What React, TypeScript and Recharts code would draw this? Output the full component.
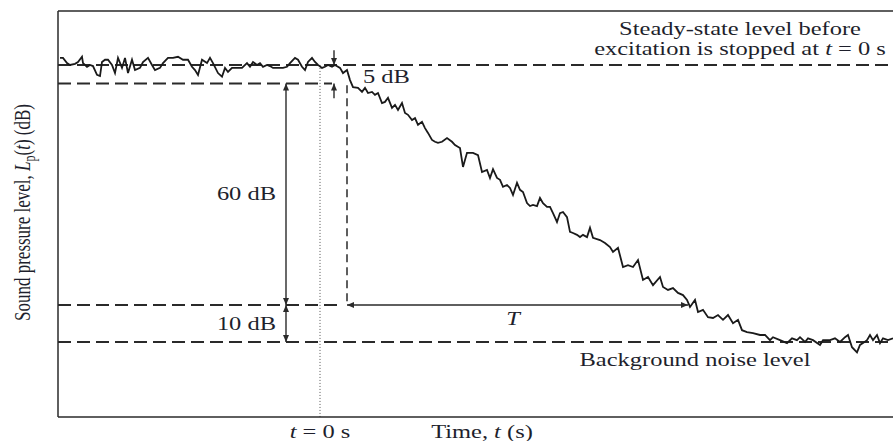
import { LineChart, Line, XAxis, YAxis, ReferenceLine, ReferenceDot } from "recharts"

// time relative to the moment excitation stops (t = 0)
const time = [
  -260, -257, -253, -250, -245, -242, -238, -237, -233, -230, -227, -223, -220, -218, -215, -212,
  -208, -205, -202, -198, -195, -192, -188, -185, -180, -177, -172, -168, -165, -160, -157, -152,
  -147, -142, -137, -132, -128, -125, -122, -118, -113, -110, -107, -102, -98, -95, -92, -88,
  -83, -78, -73, -70, -67, -63, -60, -57, -53, -50, -47, -42, -37, -33, -30, -25,
  -22, -18, -15, -12, -8, -5, -2, 2, 5, 8, 12, 15, 20, 23, 27, 30,
  33, 38, 42, 45, 48, 52, 55, 58, 62, 65, 68, 72, 75, 78, 82, 85,
  88, 92, 95, 98, 102, 105, 108, 112, 115, 118, 122, 127, 132, 135, 140, 143,
  147, 153, 158, 162, 167, 170, 173, 177, 180, 183, 187, 190, 193, 197, 200, 203,
  207, 210, 213, 217, 220, 223, 227, 230, 233, 237, 240, 243, 247, 250, 253, 257,
  260, 263, 267, 270, 273, 280, 285, 290, 293, 298, 303, 308, 313, 318, 323, 328,
  333, 340, 343, 348, 353, 358, 363, 367, 370, 375, 378, 383, 388, 393, 398, 403,
  408, 413, 418, 422, 427, 433, 440, 445, 450, 453, 460, 467, 472, 477, 480, 485,
  488, 493, 500, 503, 510, 515, 520, 525, 528, 532, 537, 540, 543, 547, 550, 553,
  557, 560, 563, 568, 573,
]

// sound pressure level, dB
const level = [
  96.9, 96.9, 95.5, 95.0, 95.3, 95.8, 97.2, 95.5, 94.5, 95.0, 94.7, 92.3, 92.0, 95.8, 96.4, 96.4,
  95.0, 92.8, 96.9, 94.2, 96.9, 92.8, 96.4, 93.6, 94.2, 95.8, 96.9, 95.0, 93.6, 94.2, 95.5, 96.9,
  96.9, 97.2, 96.4, 96.4, 94.5, 93.6, 92.3, 96.4, 95.5, 96.9, 95.5, 92.8, 91.8, 94.2, 93.1, 94.2,
  94.2, 94.2, 95.5, 94.5, 95.8, 95.0, 95.5, 94.5, 95.0, 94.7, 94.2, 94.2, 94.2, 94.5, 95.5, 96.9,
  96.4, 94.5, 93.6, 95.8, 96.9, 95.8, 95.0, 94.2, 94.5, 95.0, 94.5, 95.0, 94.2, 92.8, 93.6, 90.9,
  89.0, 88.8, 87.7, 88.8, 87.4, 87.7, 86.9, 87.4, 84.7, 85.0, 86.1, 83.4, 84.2, 82.8, 84.7, 82.0,
  81.5, 80.1, 80.6, 78.8, 79.6, 77.9, 76.6, 74.7, 74.2, 73.9, 74.2, 75.2, 74.2, 73.3, 72.5, 67.4,
  71.2, 71.2, 70.6, 66.0, 66.6, 64.4, 66.8, 64.4, 63.9, 62.0, 62.5, 61.7, 59.8, 63.1, 61.2, 60.6,
  57.6, 56.8, 57.1, 56.8, 59.0, 57.6, 56.6, 56.6, 54.9, 52.5, 54.9, 55.2, 53.8, 49.8, 49.5, 49.0,
  48.4, 49.0, 48.4, 50.9, 48.2, 47.6, 46.8, 45.7, 44.4, 45.5, 40.3, 40.8, 40.3, 42.2, 36.8, 37.6,
  35.4, 37.6, 34.9, 34.1, 34.6, 33.3, 32.7, 31.4, 29.5, 31.4, 28.1, 28.7, 26.7, 26.5, 27.3, 26.0,
  27.3, 25.1, 26.0, 23.2, 22.7, 22.4, 21.9, 21.9, 20.5, 21.3, 20.5, 19.7, 21.0, 20.5, 21.3, 20.0,
  21.0, 20.5, 19.2, 20.5, 20.5, 21.0, 20.0, 21.3, 21.9, 18.6, 17.2, 19.2, 19.7, 20.5, 21.9, 20.5,
  21.9, 19.7, 21.0, 20.5, 21.0,
]

const steadyLevel = 95
const decayStart = 90 // 5 dB below steady state
const decayEnd = 30 // 60 dB below decayStart
const noiseLevel = 20 // background, 10 dB lower

const timeTicks = [0, 162]
const timeTickLabels = ["t = 0 s", "Time, t (s)"]

const X_DOMAIN = [-262, 573]
const Y_DOMAIN = [-0.3, 109.6]

const SERIF = "'Liberation Serif', 'Times New Roman', serif"
const INK = "#1e1f2c"
const FRAME = "#2a2a2a"
const SX = 1.36 // the figure is stretched sideways

// italicise the lone variable letters (t, T)
function rich(s: string) {
  return s.split(/(\b[tT]\b)/).map((part, i) =>
    /^[tT]$/.test(part) ? (
      <tspan key={i} fontStyle="italic">
        {part}
      </tspan>
    ) : (
      part
    )
  )
}

function StretchText({ x, y, anchor, lines, size = 18, gap = 20 }: any) {
  const arr: string[] = Array.isArray(lines) ? lines : [lines]
  return (
    <text
      transform={`translate(${x},${y}) scale(${SX},1)`}
      textAnchor={anchor}
      fontFamily={SERIF}
      fontSize={size}
      fill={INK}
    >
      {arr.map((s, i) => (
        <tspan key={i} x={0} dy={i === 0 ? 0 : gap}>
          {rich(s)}
        </tspan>
      ))}
    </text>
  )
}

const note = (lines: string | string[], anchor: "start" | "middle" | "end") => (p: any) =>
  <StretchText x={p.viewBox.x} y={p.viewBox.y} anchor={anchor} lines={lines} />

function arrow(both: boolean) {
  return (p: any) => {
    const { x1, y1, x2, y2 } = p
    const a = Math.atan2(y2 - y1, x2 - x1)
    const head = (x: number, y: number, ang: number) => {
      const len = 7
      const w = 3
      const bx = x - len * Math.cos(ang)
      const by = y - len * Math.sin(ang)
      const px = -Math.sin(ang) * w
      const py = Math.cos(ang) * w
      return <polygon points={`${x},${y} ${bx + px},${by + py} ${bx - px},${by - py}`} fill={FRAME} />
    }
    return (
      <g>
        <line x1={x1} y1={y1} x2={x2} y2={y2} stroke={FRAME} strokeWidth={1.4} />
        {both && head(x1, y1, a + Math.PI)}
        {head(x2, y2, a)}
      </g>
    )
  }
}

function TimeTick({ x, y, payload }: any) {
  const label = timeTickLabels[timeTicks.indexOf(payload.value)]
  return <StretchText x={x} y={y + 21} anchor="middle" lines={label} />
}

function YLabel({ viewBox }: any) {
  const cx = viewBox.x + 30
  const cy = viewBox.y + viewBox.height / 2 - 1.5
  return (
    <text
      transform={`translate(${cx},${cy}) scale(${SX},1) rotate(-90)`}
      textAnchor="middle"
      fontFamily={SERIF}
      fontSize={17}
      fill={INK}
    >
      Sound pressure level, <tspan fontStyle="italic">L</tspan>
      <tspan fontSize={12} dy={4}>
        p
      </tspan>
      <tspan dy={-4}>(</tspan>
      <tspan fontStyle="italic">t</tspan>) (dB)
    </text>
  )
}

const dashed = { stroke: FRAME, strokeWidth: 2, strokeDasharray: "13 6" }

export default function App() {
  const data = time.map((t, i) => ({ t, L: level[i] }))
  const [xMin, xMax] = X_DOMAIN
  const [yMin, yMax] = Y_DOMAIN

  return (
    <div style={{ position: "absolute", left: 0, top: 0, width: 893, height: 441, background: "#fff" }}>
      <LineChart width={893} height={441} data={data} margin={{ top: 11, right: 0, bottom: 0, left: 0 }}>
        <XAxis
          dataKey="t"
          type="number"
          domain={X_DOMAIN}
          allowDataOverflow
          ticks={timeTicks}
          interval={0}
          tickSize={0}
          tickMargin={0}
          tickLine={false}
          axisLine={{ stroke: FRAME, strokeWidth: 1.5 }}
          height={24}
          tick={(p: any) => <TimeTick {...p} />}
        />
        <YAxis
          type="number"
          domain={Y_DOMAIN}
          allowDataOverflow
          width={58}
          tick={false}
          tickLine={false}
          axisLine={{ stroke: FRAME, strokeWidth: 1.5 }}
          label={{ content: (p: any) => <YLabel {...p} /> }}
        />

        {/* top frame edge */}
        <ReferenceLine y={yMax} stroke={FRAME} strokeWidth={1.5} />

        <ReferenceLine y={steadyLevel} {...dashed} />
        <ReferenceLine y={noiseLevel} {...dashed} />
        <ReferenceLine segment={[{ x: xMin, y: decayStart }, { x: 12, y: decayStart }]} {...dashed} />
        <ReferenceLine segment={[{ x: xMin, y: decayEnd }, { x: 18, y: decayEnd }]} {...dashed} />

        <ReferenceLine
          segment={[{ x: 0, y: steadyLevel }, { x: 0, y: yMin }]}
          stroke="#555"
          strokeWidth={1}
          strokeDasharray="1 2"
        />
        <ReferenceLine
          segment={[{ x: 27, y: decayStart - 0.5 }, { x: 27, y: decayEnd }]}
          stroke={FRAME}
          strokeWidth={1.5}
          strokeDasharray="8 5"
        />

        <ReferenceLine segment={[{ x: -34, y: decayStart }, { x: -34, y: decayEnd }]} shape={arrow(true)} />
        <ReferenceLine segment={[{ x: -34, y: decayEnd }, { x: -34, y: noiseLevel }]} shape={arrow(true)} />
        <ReferenceLine segment={[{ x: 27, y: decayEnd }, { x: 368, y: decayEnd }]} shape={arrow(true)} />
        <ReferenceLine segment={[{ x: 14, y: steadyLevel + 4 }, { x: 14, y: steadyLevel }]} shape={arrow(false)} />
        <ReferenceLine segment={[{ x: 14, y: decayStart - 4 }, { x: 14, y: decayStart }]} shape={arrow(false)} />

        <Line
          dataKey="L"
          type="linear"
          dot={false}
          stroke="#1a1a1a"
          strokeWidth={1.8}
          isAnimationActive={false}
        />

        <ReferenceDot
          x={420}
          y={103.1}
          r={0}
          stroke="none"
          fill="none"
          label={{ content: note(["Steady-state level before", "excitation is stopped at t = 0 s"], "middle") }}
        />
        <ReferenceDot x={43} y={90.1} r={0} stroke="none" fill="none" label={{ content: note("5 dB", "start") }} />
        <ReferenceDot x={-44} y={58.4} r={0} stroke="none" fill="none" label={{ content: note("60 dB", "end") }} />
        <ReferenceDot x={-44} y={23.2} r={0} stroke="none" fill="none" label={{ content: note("10 dB", "end") }} />
        <ReferenceDot x={193} y={24.6} r={0} stroke="none" fill="none" label={{ content: note("T", "middle") }} />
        <ReferenceDot
          x={375}
          y={13.5}
          r={0}
          stroke="none"
          fill="none"
          label={{ content: note("Background noise level", "middle") }}
        />
      </LineChart>
    </div>
  )
}
